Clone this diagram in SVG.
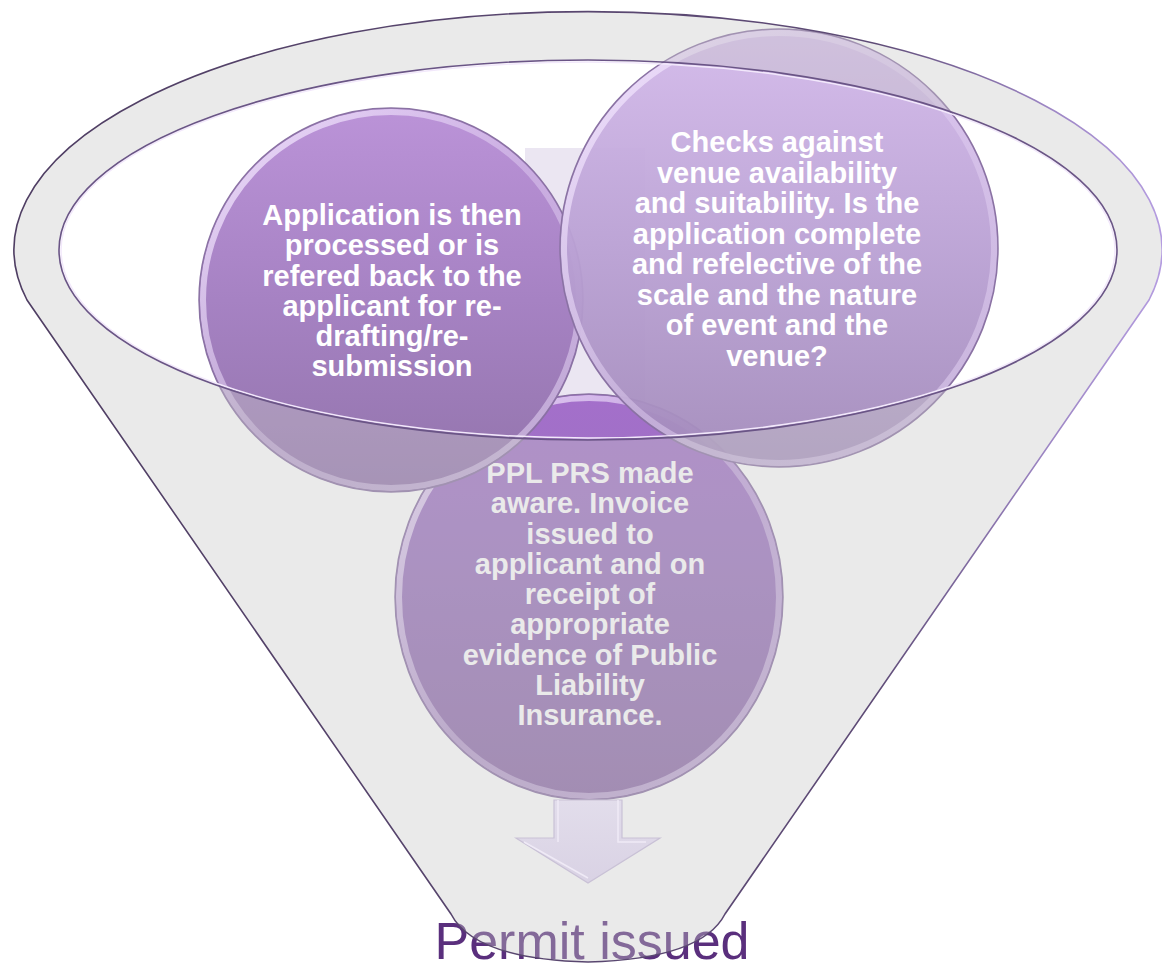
<svg xmlns="http://www.w3.org/2000/svg" width="1162" height="972" viewBox="0 0 1162 972">
<defs>
<linearGradient id="gLeft" x1="0" y1="0" x2="0" y2="1">
<stop offset="0" stop-color="#bb93d8"/><stop offset="0.5" stop-color="#a682c3"/><stop offset="1" stop-color="#9274ab"/>
</linearGradient>
<linearGradient id="gRight" x1="0" y1="0" x2="0" y2="1">
<stop offset="0" stop-color="#d3b9ea"/><stop offset="0.5" stop-color="#baa1d4"/><stop offset="1" stop-color="#a28aba"/>
</linearGradient>
<linearGradient id="gBottom" x1="0" y1="0" x2="0" y2="1">
<stop offset="0" stop-color="#a46fcb"/><stop offset="0.4" stop-color="#9a72be"/><stop offset="1" stop-color="#8c6aa6"/>
</linearGradient>
<linearGradient id="gRim" x1="0" y1="0" x2="1" y2="1">
<stop offset="0" stop-color="#f4e8ff" stop-opacity="0.9"/><stop offset="0.5" stop-color="#e4d2f4" stop-opacity="0.45"/><stop offset="1" stop-color="#d8c6ea" stop-opacity="0.7"/>
</linearGradient>
<linearGradient id="gOutline" x1="0" y1="0" x2="1" y2="0">
<stop offset="0" stop-color="#4f3e63"/><stop offset="0.75" stop-color="#5e4b76"/><stop offset="0.9" stop-color="#9d86c4"/><stop offset="1" stop-color="#b49ce0"/>
</linearGradient>
<linearGradient id="gArrow" x1="0" y1="0" x2="0" y2="1">
<stop offset="0" stop-color="#e2ddeb"/><stop offset="1" stop-color="#d9d2e4"/>
</linearGradient>
<style>
.rim{fill:none;stroke:url(#gRim);stroke-width:6}
.edge{fill:none;stroke:#8a72a3;stroke-width:1.5}
.lbl{font-family:"Liberation Sans",Arial,sans-serif;font-weight:bold;font-size:29px;text-anchor:middle;fill:#ffffff}
.lbl2{font-family:"Liberation Sans",Arial,sans-serif;font-weight:bold;font-size:29px;text-anchor:middle;fill:#ffffff}
.outline{fill:none;stroke:url(#gOutline);stroke-width:1.6}
</style>
</defs>

<g id="result">
<text x="592" y="959" font-family="'Liberation Sans',Arial,sans-serif" font-size="52" fill="#5a2f7d" text-anchor="middle">Permit issued</text>
</g>

<g id="backdrop">
<rect x="525" y="148" width="120" height="255" fill="#ebe6f2"/>
</g>

<g id="node-step3">
<ellipse cx="589" cy="597" rx="194" ry="203" fill="url(#gBottom)"/>
<ellipse cx="589" cy="597" rx="190" ry="199" class="rim"/>
<ellipse cx="589" cy="597" rx="194" ry="203" class="edge"/>
<text class="lbl2" x="590" y="483">PPL PRS made</text>
<text class="lbl2" x="590" y="513.3">aware. Invoice</text>
<text class="lbl2" x="590" y="543.5">issued to</text>
<text class="lbl2" x="590" y="573.8">applicant and on</text>
<text class="lbl2" x="590" y="604">receipt of</text>
<text class="lbl2" x="590" y="634.3">appropriate</text>
<text class="lbl2" x="590" y="664.5">evidence of Public</text>
<text class="lbl2" x="590" y="694.8">Liability</text>
<text class="lbl2" x="590" y="725">Insurance.</text>
</g>

<g id="node-step2">
<circle cx="391" cy="300" r="192" fill="url(#gLeft)"/>
<circle cx="391" cy="300" r="188" class="rim"/>
<circle cx="391" cy="300" r="192" class="edge"/>
<text class="lbl" x="392" y="225">Application is then</text>
<text class="lbl" x="392" y="255.3">processed or is</text>
<text class="lbl" x="392" y="285.5">refered back to the</text>
<text class="lbl" x="392" y="315.8">applicant for re-</text>
<text class="lbl" x="392" y="346">drafting/re-</text>
<text class="lbl" x="392" y="376.3">submission</text>
</g>

<g id="node-step1">
<circle cx="779" cy="248" r="219" fill="url(#gRight)" fill-opacity="0.95"/>
<circle cx="779" cy="248" r="215" class="rim"/>
<circle cx="779" cy="248" r="219" class="edge" stroke="#7d6896"/>
<text class="lbl" x="777" y="152">Checks against</text>
<text class="lbl" x="777" y="182.5">venue availability</text>
<text class="lbl" x="777" y="213">and suitability. Is the</text>
<text class="lbl" x="777" y="243.5">application complete</text>
<text class="lbl" x="777" y="274">and refelective of the</text>
<text class="lbl" x="777" y="304.5">scale and the nature</text>
<text class="lbl" x="777" y="335">of event and the</text>
<text class="lbl" x="777" y="365.5">venue?</text>
</g>

<g id="funnel">
<path fill="#c8c8c8" fill-opacity="0.38" fill-rule="evenodd" d="M 27,300 A 574 238 0 1 1 1149,300 L 725,914 Q 702,959 588,962 Q 474,959 451,914 Z M 59,250 A 529 190 0 1 0 1117,250 A 529 190 0 1 0 59,250 Z"/>
</g>

<g id="arrow">
<path d="M 554,800 L 622,800 L 622,838 L 660,838 L 588,883 L 516,838 L 554,838 Z" fill="url(#gArrow)" stroke="#c9c1d6" stroke-width="1.2"/>
<path d="M 558,800 L 558,842 M 618,800 L 618,842 L 646,842 M 524,842 L 588,878" fill="none" stroke="#efeaf6" stroke-width="1.5"/>
</g>

<g id="connectors">
<path class="outline" d="M 27,300 A 574 238 0 1 1 1149,300 L 725,914 Q 702,959 588,962 Q 474,959 451,914 Z"/>
<ellipse cx="588" cy="250" rx="527" ry="188" fill="none" stroke="#f2e8fb" stroke-width="1.5"/>
<ellipse cx="588" cy="250" rx="529" ry="190" fill="none" stroke="#6a5586" stroke-width="1.6"/>
</g>
</svg>
